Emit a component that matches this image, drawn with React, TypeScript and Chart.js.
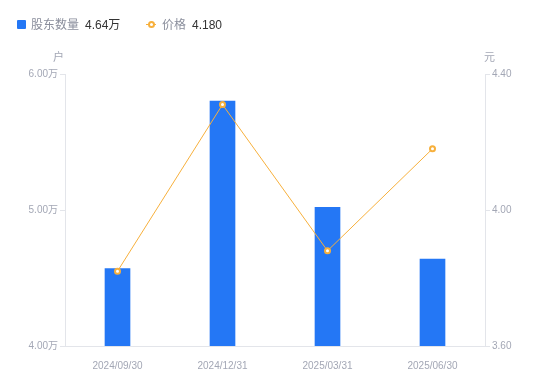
import React, { useEffect, useRef } from "react";
import { Chart, registerables } from "chart.js";

Chart.register(...registerables);

const categories = ["2024/09/30", "2024/12/31", "2025/03/31", "2025/06/30"];
const holders = [4.57, 5.8, 5.02, 4.64]; // 万户
const prices = [3.82, 4.31, 3.88, 4.18]; // 元
const legendHolders = "4.64万";
const legendPrice = "4.180";

const FONT = '"Liberation Sans", "Noto Sans CJK SC", Arial, sans-serif';
const BLUE = "#2477F5";
const ORANGE = "#F7B03C";
const AXIS = "#E3E5EA";
const TICK = "#A3A7B5";

export default function App() {
  const ref = useRef<HTMLCanvasElement>(null);
  useEffect(() => {
    if (!ref.current) return;
    const chart = new Chart(ref.current, {
      data: {
        labels: categories,
        datasets: [
          {
            type: "line",
            label: "价格",
            data: prices,
            yAxisID: "y1",
            borderColor: ORANGE,
            borderWidth: 1,
            pointRadius: 2.5,
            pointBorderWidth: 2,
            pointBackgroundColor: "#ffffff",
            pointBorderColor: ORANGE,
            tension: 0,
            order: 0,
          },
          {
            type: "bar",
            label: "股东数量",
            data: holders,
            yAxisID: "y",
            backgroundColor: BLUE,
            barThickness: 25,
            order: 1,
          },
        ],
      },
      options: {
        responsive: false,
        animation: false,
        layout: { padding: { top: 74, left: 0, right: 0, bottom: 0 } },
        plugins: { legend: { display: false }, tooltip: { enabled: false } },
        scales: {
          x: {
            grid: { display: false },
            border: { display: true, color: AXIS },
            ticks: { color: TICK, font: { family: FONT, size: 10 }, padding: 6 },
            afterFit: (s: any) => {
              s.height = 35;
            },
          },
          y: {
            position: "left",
            min: 4,
            max: 6,
            ticks: {
              stepSize: 1,
              color: TICK,
              font: { family: FONT, size: 10 },
              padding: 2,
              callback: (v: any) => Number(v).toFixed(2) + "万",
            },
            grid: { drawOnChartArea: false, drawTicks: true, tickLength: 5, color: AXIS },
            border: { display: true, color: AXIS },
            afterFit: (s: any) => {
              s.width = 65;
            },
          },
          y1: {
            position: "right",
            min: 3.6,
            max: 4.4,
            ticks: {
              stepSize: 0.4,
              color: TICK,
              font: { family: FONT, size: 10 },
              padding: 2,
              callback: (v: any) => Number(v).toFixed(2),
            },
            grid: { drawOnChartArea: false, drawTicks: true, tickLength: 5, color: AXIS },
            border: { display: true, color: AXIS },
            afterFit: (s: any) => {
              s.width = 65;
            },
          },
        },
      },
    } as any);
    return () => chart.destroy();
  }, []);

  const text: React.CSSProperties = { position: "absolute", fontFamily: FONT, fontSize: 12, lineHeight: "14px" };
  return (
    <div style={{ position: "absolute", left: 0, top: 0, width: 550, height: 381, background: "#fff" }}>
      <canvas ref={ref} width={550} height={381} style={{ position: "absolute", left: 0, top: 0 }} />
      <div style={{ position: "absolute", left: 17, top: 20, width: 9, height: 9, background: BLUE, borderRadius: 1 }} />
      <div style={{ ...text, left: 31, top: 18, color: "#8A8E9C" }}>股东数量</div>
      <div style={{ ...text, left: 85, top: 18, color: "#333" }}>{legendHolders}</div>
      <div style={{ position: "absolute", left: 146, top: 24, width: 10, height: 1, background: ORANGE }} />
      <div style={{ position: "absolute", left: 148, top: 21, width: 3, height: 3, border: `2px solid ${ORANGE}`, borderRadius: "50%", background: "#fff" }} />
      <div style={{ ...text, left: 162, top: 18, color: "#8A8E9C" }}>价格</div>
      <div style={{ ...text, left: 192, top: 18, color: "#333" }}>{legendPrice}</div>
      <div style={{ ...text, left: 53, top: 50, fontSize: 11, color: TICK }}>户</div>
      <div style={{ ...text, left: 484, top: 50, fontSize: 11, color: TICK }}>元</div>
    </div>
  );
}
